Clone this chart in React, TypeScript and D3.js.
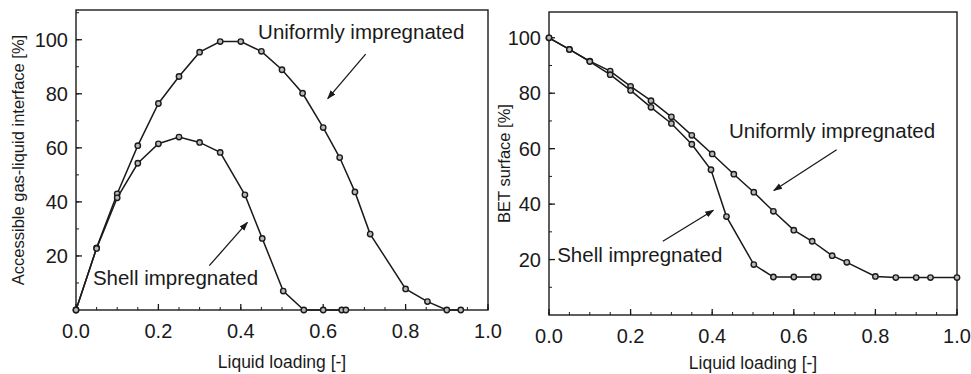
import React from 'react';
import * as d3 from 'd3';

// Left panel: accessible gas-liquid interface
const leftUniformX = [0, 0.05, 0.10, 0.15, 0.20, 0.25, 0.30, 0.35, 0.40, 0.45, 0.50, 0.55, 0.60, 0.64, 0.677, 0.714, 0.80, 0.853, 0.90, 0.934];
const leftUniformY = [0, 23, 43, 60.8, 76.4, 86.4, 95.4, 99.3, 99.3, 95.7, 88.9, 80.2, 67.5, 56.4, 43.7, 28.1, 7.8, 3.1, 0, 0];
const leftShellX = [0, 0.05, 0.10, 0.15, 0.20, 0.25, 0.30, 0.35, 0.41, 0.452, 0.503, 0.553, 0.60, 0.645, 0.655];
const leftShellY = [0, 22.8, 41.5, 54.3, 61.5, 64, 62, 58.3, 42.6, 26.5, 7, 0, 0, 0, 0];

// Right panel: BET surface
const rightUniformX = [0, 0.05, 0.10, 0.15, 0.20, 0.25, 0.30, 0.35, 0.40, 0.453, 0.502, 0.55, 0.60, 0.645, 0.694, 0.73, 0.80, 0.85, 0.90, 0.935, 1.0];
const rightUniformY = [100, 95.8, 91.6, 88, 82.5, 77.3, 71.5, 64.8, 58.1, 50.8, 44.3, 37.4, 30.6, 26.6, 21.4, 19, 13.9, 13.5, 13.5, 13.5, 13.5];
const rightShellX = [0, 0.05, 0.10, 0.15, 0.20, 0.25, 0.30, 0.35, 0.397, 0.435, 0.502, 0.55, 0.60, 0.65, 0.66];
const rightShellY = [100, 95.8, 91.4, 86.7, 81, 74.9, 69.1, 61.6, 52.4, 35.5, 18.2, 13.7, 13.7, 13.7, 13.7];

const xTickValues = [0, 0.2, 0.4, 0.6, 0.8, 1.0];
const yTickValues = [20, 40, 60, 80, 100];
const xTitle = 'Liquid loading [-]';
const leftYTitle = 'Accessible gas-liquid interface [%]';
const rightYTitle = 'BET surface [%]';
const uniformLabel = 'Uniformly impregnated';
const shellLabel = 'Shell impregnated';

const FONT = 'Arial, "Liberation Sans", sans-serif';
const INK = '#1a1a1a';

type Note = { text: string; tx: number; ty: number; from: [number, number]; to: [number, number] };

function Panel(props: {
  x0: number; x1: number; y0: number; y1: number; yMax: number;
  series: { x: number[]; y: number[] }[];
  yTitle: string; yTitleX: number; xTitleY: number; notes: Note[]; id: string;
}) {
  const { x0, x1, y0, y1, yMax, series, yTitle, yTitleX, xTitleY, notes, id } = props;
  const x = d3.scaleLinear().domain([0, 1]).range([x0, x1]);
  const y = d3.scaleLinear().domain([0, yMax]).range([y1, y0]);
  const line = d3.line<[number, number]>().x(d => x(d[0])).y(d => y(d[1]));
  const minorX = d3.range(0, 1.0001, 0.05);
  const minorY = d3.range(10, yMax, 10);

  return (
    <g>
      <defs>
        <marker id={`arrow-${id}`} viewBox="0 0 10 10" refX="9" refY="5" markerWidth="7" markerHeight="7" orient="auto">
          <path d="M0,1.5 L10,5 L0,8.5 z" fill={INK} />
        </marker>
      </defs>
      {/* frame */}
      <rect x={x0} y={y0} width={x1 - x0} height={y1 - y0} fill="none" stroke={INK} strokeWidth={1.4} />
      {/* minor ticks */}
      {minorX.map((v, i) => (
        <line key={`mx${i}`} x1={x(v)} x2={x(v)} y1={y1} y2={y1 - 3} stroke={INK} strokeWidth={1} />
      ))}
      {minorY.map((v, i) => (
        <line key={`my${i}`} x1={x0} x2={x0 + 3} y1={y(v)} y2={y(v)} stroke={INK} strokeWidth={1} />
      ))}
      {/* major ticks + labels */}
      {xTickValues.map((v, i) => (
        <g key={`xt${i}`}>
          <line x1={x(v)} x2={x(v)} y1={y1} y2={y1 - 6} stroke={INK} strokeWidth={1.3} />
          <text x={x(v)} y={y1 + 28} textAnchor="middle" fontSize={20} fontFamily={FONT} fill={INK}>
            {v.toFixed(1)}
          </text>
        </g>
      ))}
      {yTickValues.map((v, i) => (
        <g key={`yt${i}`}>
          <line x1={x0} x2={x0 + 6} y1={y(v)} y2={y(v)} stroke={INK} strokeWidth={1.3} />
          <text x={x0 - 8} y={y(v) + 7} textAnchor="end" fontSize={20} fontFamily={FONT} fill={INK}>
            {v}
          </text>
        </g>
      ))}
      {/* titles */}
      <text x={(x0 + x1) / 2} y={xTitleY} textAnchor="middle" fontSize={17.5} fontFamily={FONT} fill={INK}>
        {xTitle}
      </text>
      <text
        transform={`translate(${yTitleX},${(y0 + y1) / 2}) rotate(-90)`}
        textAnchor="middle" fontSize={16.5} fontFamily={FONT} fill={INK}
      >
        {yTitle}
      </text>
      {/* series */}
      {series.map((s, si) => {
        const pts = s.x.map((v, i) => [v, s.y[i]] as [number, number]);
        return (
          <g key={`s${si}`}>
            <path d={line(pts) || ''} fill="none" stroke={INK} strokeWidth={1.5} />
            {pts.map((p, i) => (
              <circle key={i} cx={x(p[0])} cy={y(p[1])} r={2.7} fill="#b8b8b8" stroke={INK} strokeWidth={1.4} />
            ))}
          </g>
        );
      })}
      {/* annotations */}
      {notes.map((n, i) => (
        <g key={`n${i}`}>
          <text x={x(n.tx)} y={y(n.ty)} fontSize={20.5} fontFamily={FONT} fill={INK}>{n.text}</text>
          <line
            x1={x(n.from[0])} y1={y(n.from[1])} x2={x(n.to[0])} y2={y(n.to[1])}
            stroke={INK} strokeWidth={1.3} markerEnd={`url(#arrow-${id})`}
          />
        </g>
      ))}
    </g>
  );
}

export default function App() {
  return (
    <svg width={971} height={374} style={{ position: 'absolute', left: 0, top: 0, background: '#fff' }}>
      <Panel
        id="l" x0={76} x1={488} y0={10} y1={310} yMax={111}
        series={[{ x: leftUniformX, y: leftUniformY }, { x: leftShellX, y: leftShellY }]}
        yTitle={leftYTitle} yTitleX={24} xTitleY={368}
        notes={[
          { text: uniformLabel, tx: 0.442, ty: 100.3, from: [0.703, 94.7], to: [0.611, 78.2] },
          { text: shellLabel, tx: 0.041, ty: 9.25, from: [0.3235, 16.4], to: [0.416, 32.4] },
        ]}
      />
      <Panel
        id="r" x0={549} x1={957} y0={12} y1={315} yMax={109.3}
        series={[{ x: rightUniformX, y: rightUniformY }, { x: rightShellX, y: rightShellY }]}
        yTitle={rightYTitle} yTitleX={510} xTitleY={369}
        notes={[
          { text: uniformLabel, tx: 0.441, ty: 63.9, from: [0.705, 59.6], to: [0.551, 44.9] },
          { text: shellLabel, tx: 0.02, ty: 19.1, from: [0.279, 26.6], to: [0.403, 37.8] },
        ]}
      />
    </svg>
  );
}
